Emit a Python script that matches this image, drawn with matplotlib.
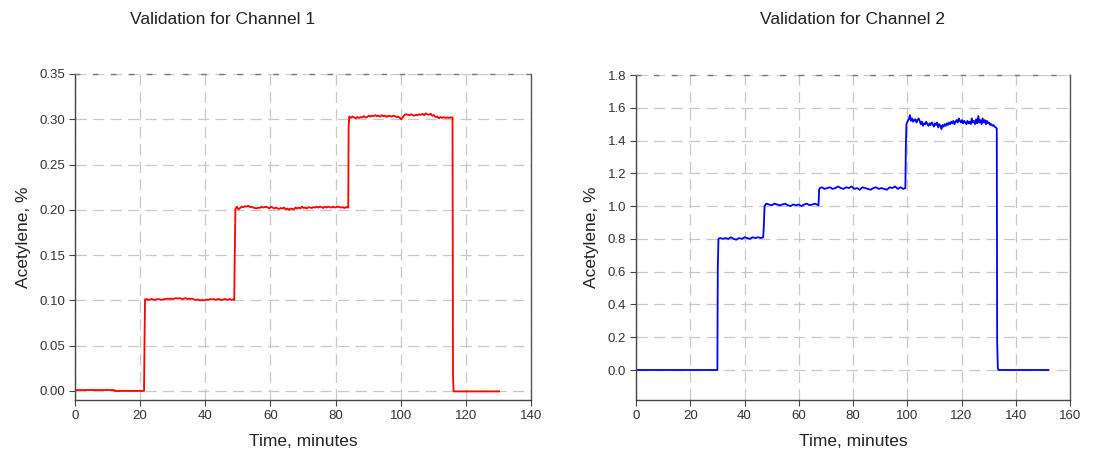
import matplotlib
matplotlib.use("Agg")
import matplotlib.pyplot as plt
from matplotlib.ticker import MultipleLocator

plt.rcParams['font.family'] = ['Liberation Sans', 'DejaVu Sans']

# ---------------- data ----------------
ch1_t = [0, 6, 12, 12.2, 16, 21.2, 21.35, 21.5,
         22, 22.5, 23, 23.5, 24, 24.5, 25, 25.5, 26, 26.5, 27, 27.5, 28, 28.5, 29, 29.5,
         30, 30.5, 31, 31.5, 32, 32.5, 33, 33.5, 34, 34.5, 35, 35.5, 36, 36.5, 37, 37.5,
         38, 38.5, 39, 39.5, 40, 40.5, 41, 41.5, 42, 42.5, 43, 43.5, 44, 44.5, 45, 45.5,
         46, 46.5, 47, 47.5, 48, 48.5, 48.9, 49.05, 49.25,
         49.7, 50.2, 50.7, 51.2, 51.7, 52.2, 52.7, 53.2, 53.7, 54.2, 54.7, 55.2, 55.7, 56.2,
         56.7, 57.2, 57.7, 58.2, 58.7, 59.2, 59.7, 60.2, 60.7, 61.2, 61.7, 62.2, 62.7, 63.2,
         63.7, 64.2, 64.7, 65.2, 65.7, 66.2, 66.7, 67.2, 67.7, 68.2, 68.7, 69.2, 69.7, 70.2,
         70.7, 71.2, 71.7, 72.2, 72.7, 73.2, 73.7, 74.2, 74.7, 75.2, 75.7, 76.2, 76.7, 77.2,
         77.7, 78.2, 78.7, 79.2, 79.7, 80.2, 80.7, 81.2, 81.7, 82.2, 82.7, 83.2, 83.7,
         83.9, 84.0, 84.2,
         84.7, 85.2, 85.7, 86.2, 86.7, 87.2, 87.7, 88.2, 88.7, 89.2, 89.7, 90.2, 90.7, 91.2,
         91.7, 92.2, 92.7, 93.2, 93.7, 94.2, 94.7, 95.2, 95.7, 96.2, 96.7, 97.2, 97.7, 98.2,
         98.7, 99.2, 99.7, 100.2, 100.7, 101.2, 101.7, 102.2, 102.7, 103.2, 103.7, 104.2,
         104.7, 105.2, 105.7, 106.2, 106.7, 107.2, 107.7, 108.2, 108.7, 109.2, 109.7, 110.2,
         110.7, 111.2, 111.7, 112.2, 112.7, 113.2, 113.7, 114.2, 114.7, 115.2, 115.7, 115.9,
         116.05, 116.2, 116.4, 120, 125, 130.2]
ch1_v = [0.001, 0.001, 0.001, 0.0, 0.0, 0.0, 0.057, 0.101,
         0.1015, 0.1005, 0.101, 0.1015, 0.101, 0.1005, 0.101, 0.1015, 0.101, 0.1005, 0.101, 0.1015, 0.1015, 0.102, 0.1015, 0.102,
         0.1015, 0.102, 0.1025, 0.102, 0.1025, 0.102, 0.1015, 0.102, 0.1025, 0.1015, 0.102, 0.1015, 0.102, 0.101, 0.1005, 0.101,
         0.1005, 0.100, 0.1005, 0.100, 0.1005, 0.101, 0.1005, 0.1015, 0.101, 0.1015, 0.1005, 0.101, 0.1015, 0.101, 0.1005, 0.101,
         0.1015, 0.101, 0.1005, 0.1015, 0.1005, 0.101, 0.1005, 0.150, 0.201,
         0.2035, 0.2005, 0.202, 0.2035, 0.203, 0.204, 0.2035, 0.2045, 0.203, 0.2035, 0.2025, 0.202, 0.2015, 0.2025,
         0.202, 0.2035, 0.2025, 0.203, 0.2035, 0.2025, 0.2015, 0.2035, 0.2025, 0.2015, 0.2025, 0.2015, 0.201, 0.202,
         0.2015, 0.2025, 0.2005, 0.2015, 0.2, 0.2015, 0.201, 0.2005, 0.2025, 0.2015, 0.2025, 0.2015, 0.2035, 0.202,
         0.2025, 0.2015, 0.203, 0.2025, 0.202, 0.203, 0.2025, 0.2035, 0.2025, 0.2035, 0.203, 0.202, 0.2035, 0.2025,
         0.2035, 0.203, 0.2025, 0.2035, 0.2025, 0.203, 0.2035, 0.203, 0.2025, 0.203, 0.202, 0.203, 0.2025,
         0.2025, 0.29, 0.303,
         0.3015, 0.303, 0.302, 0.301, 0.3025, 0.3015, 0.3025, 0.302, 0.3035, 0.302, 0.3025, 0.304, 0.303, 0.304,
         0.3035, 0.3045, 0.3035, 0.304, 0.303, 0.3045, 0.3035, 0.304, 0.3025, 0.304, 0.3035, 0.303, 0.304, 0.3035,
         0.3025, 0.303, 0.3015, 0.300, 0.3025, 0.305, 0.3055, 0.305, 0.3045, 0.3055, 0.3045, 0.304,
         0.305, 0.3045, 0.3055, 0.305, 0.306, 0.3045, 0.3065, 0.3055, 0.305, 0.306, 0.304, 0.3045,
         0.3025, 0.303, 0.301, 0.3025, 0.3015, 0.3025, 0.3015, 0.302, 0.3015, 0.302, 0.302, 0.302,
         0.020, 0.0, -0.0005, -0.0005, -0.0005, -0.0005]

ch2_t = [0, 10, 20, 30.0, 30.15, 30.4,
         31, 32, 33, 34, 35, 36, 37, 38, 39, 40, 41, 42, 43, 44, 45, 46, 46.9,
         47.1, 47.4,
         48, 49, 50, 51, 52, 53, 54, 55, 56, 57, 58, 59, 60, 61, 62, 63, 64, 65, 66, 67.3,
         67.5, 67.8,
         68.5, 69.5, 70.5, 71.5, 72.5, 73.5, 74.5, 75.5, 76.5, 77.5, 78.5, 79.5, 80.5, 81.5,
         82.5, 83.5, 84.5, 85.5, 86.5, 87.5, 88.5, 89.5, 90.5, 91.5, 92.5, 93.5, 94.5, 95.5,
         96.5, 97.5, 98.5, 99.3,
         99.5, 99.7,
         100.2, 100.6, 101.0, 101.4, 101.8, 102.2, 102.6, 103.0, 103.4, 103.8, 104.2, 104.6,
         105.0, 105.4, 105.8, 106.2, 106.6, 107.0, 107.4, 107.8, 108.2, 108.6, 109.0, 109.4,
         109.8, 110.2, 110.6, 111.0, 111.4, 111.8, 112.2, 112.6, 113.0, 113.4, 113.8, 114.2,
         114.6, 115.0, 115.4, 115.8, 116.2, 116.6, 117.0, 117.4, 117.8, 118.2, 118.6, 119.0,
         119.4, 119.8, 120.2, 120.6, 121.0, 121.4, 121.8, 122.2, 122.6, 123.0, 123.4, 123.8,
         124.2, 124.6, 125.0, 125.4, 125.8, 126.2, 126.6, 127.0, 127.4, 127.8, 128.2, 128.6,
         129.0, 129.4, 129.8, 130.2, 130.6, 131.0, 131.4, 131.8, 132.2, 132.6, 133.0,
         133.15, 133.4, 133.7, 140, 152]
ch2_v = [0.0, 0.0, 0.0, 0.0, 0.62, 0.80,
         0.805, 0.80, 0.805, 0.80, 0.81, 0.80, 0.795, 0.805, 0.80, 0.81, 0.805, 0.80, 0.81, 0.805, 0.81, 0.805, 0.81,
         0.87, 1.00,
         1.015, 1.01, 1.005, 1.015, 1.01, 1.005, 1.01, 1.015, 1.005, 1.00, 1.01, 1.005, 1.01, 1.00, 1.01, 1.015, 1.005, 1.01, 1.015, 1.005,
         1.10, 1.11,
         1.115, 1.105, 1.11, 1.115, 1.105, 1.11, 1.12, 1.11, 1.105, 1.115, 1.11, 1.12, 1.105, 1.11,
         1.10, 1.115, 1.11, 1.105, 1.10, 1.11, 1.115, 1.105, 1.11, 1.105, 1.10, 1.115, 1.11, 1.12,
         1.105, 1.115, 1.105, 1.11,
         1.38, 1.50,
         1.52, 1.53, 1.555, 1.52, 1.535, 1.515, 1.525, 1.53, 1.51, 1.525, 1.535, 1.52,
         1.50, 1.515, 1.49, 1.505, 1.50, 1.515, 1.50, 1.49, 1.505, 1.495, 1.51, 1.50,
         1.485, 1.505, 1.495, 1.51, 1.48, 1.50, 1.49, 1.47, 1.495, 1.485, 1.50, 1.49,
         1.505, 1.495, 1.51, 1.50, 1.515, 1.505, 1.52, 1.50, 1.515, 1.525, 1.51, 1.535,
         1.52, 1.51, 1.525, 1.505, 1.52, 1.51, 1.50, 1.52, 1.505, 1.515, 1.50, 1.535,
         1.51, 1.52, 1.50, 1.53, 1.505, 1.55, 1.51, 1.525, 1.50, 1.535, 1.51, 1.525,
         1.50, 1.52, 1.505, 1.51, 1.495, 1.50, 1.49, 1.495, 1.485, 1.48, 1.475,
         0.17, 0.01, 0.0, 0.0, 0.0]

titles = ["Validation for Channel 1", "Validation for Channel 2"]
xlabel = "Time, minutes"
ylabel = "Acetylene, %"

# ---------------- figure ----------------
fig = plt.figure(figsize=(11.12, 4.59), dpi=100)
W, H = 1112, 459

def make_axes(l, r, t, b):
    return fig.add_axes([l / W, 1 - b / H, (r - l) / W, (b - t) / H])

ax1 = make_axes(75, 531, 74, 400)
ax2 = make_axes(636, 1070, 75, 400)

spine_col = '#444444'
grid_col = '#c8c8c8'

def style(ax, xmax, xstep, ylo, yhi, ystep, fmt):
    ax.set_xlim(0, xmax)
    ax.set_ylim(ylo, yhi)
    ax.xaxis.set_major_locator(MultipleLocator(xstep))
    ax.yaxis.set_major_locator(MultipleLocator(ystep))
    ax.yaxis.set_major_formatter(plt.FormatStrFormatter(fmt))
    ax.grid(True, color=grid_col, linestyle=(0, (9, 5)), linewidth=0.9)
    ax.set_axisbelow(True)
    for s in ['left', 'bottom']:
        ax.spines[s].set_color(spine_col)
        ax.spines[s].set_linewidth(1.0)
    ax.spines['right'].set_color('#555555')
    ax.spines['right'].set_linewidth(1.0)
    ax.spines['top'].set_color('#777777')
    ax.spines['top'].set_linestyle((0, (3, 10)))
    ax.spines['top'].set_linewidth(1.0)
    ax.tick_params(axis='both', direction='out', length=4, width=0.8,
                   color=spine_col, labelsize=9.5, labelcolor='#333333', pad=3)
    ax.tick_params(top=False, right=False)
    ax.set_xlabel(xlabel, fontsize=12.5, color='#222222', labelpad=9)
    ax.set_ylabel(ylabel, fontsize=12.5, color='#222222', labelpad=6)

ax1.plot(ch1_t, ch1_v, color='#ff0000', linewidth=1.3)
style(ax1, 140, 20, -0.01, 0.35, 0.05, '%.2f')
ax2.plot(ch2_t, ch2_v, color='#0000ff', linewidth=1.3)
style(ax2, 160, 20, -0.183, 1.8, 0.2, '%.1f')

fig.text(223 / W, 1 - 19 / H, titles[0], ha='center', va='center', fontsize=12.5, color='#222222')
fig.text(853 / W, 1 - 19 / H, titles[1], ha='center', va='center', fontsize=12.5, color='#222222')

fig.savefig("out.png", dpi=100)
